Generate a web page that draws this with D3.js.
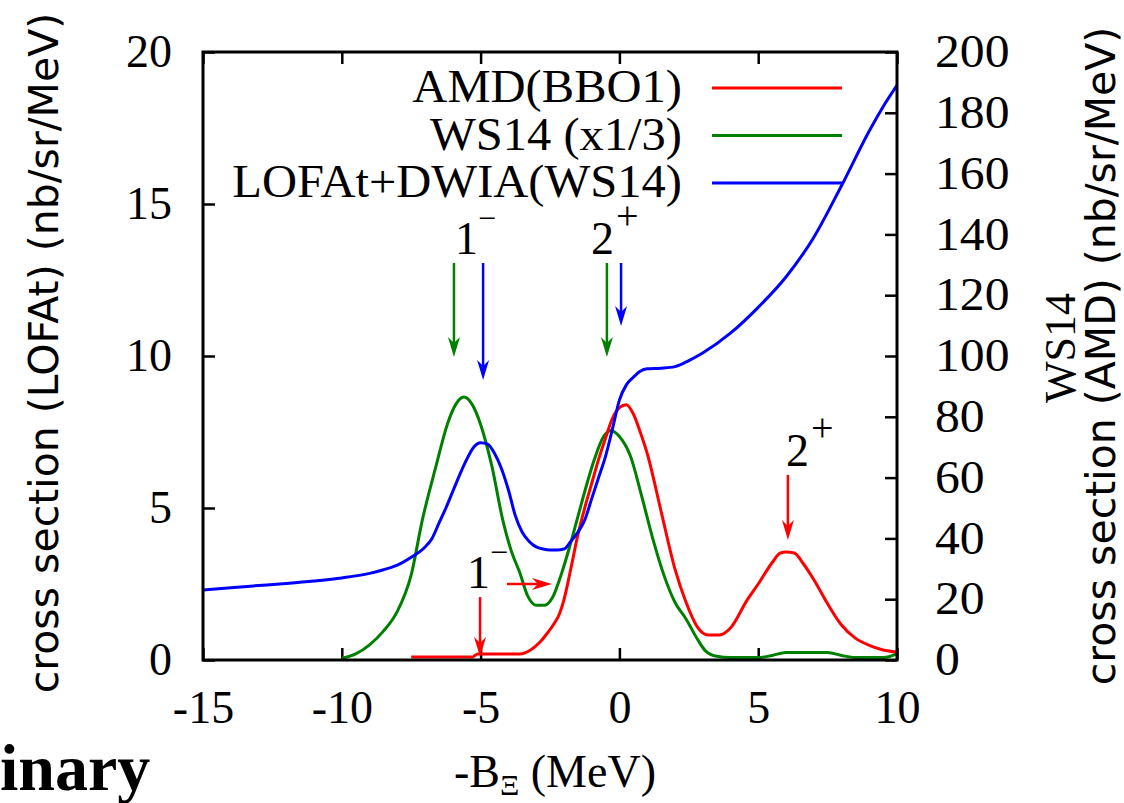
<!DOCTYPE html>
<html><head><meta charset="utf-8">
<script src="https://cdn.jsdelivr.net/npm/d3@7"></script>
<style>body{margin:0;background:#fff} svg{display:block}</style>
</head><body><svg id="c" width="1124" height="803"></svg>
<script>
// ---- data ----
const xTicks = [-15, -10, -5, 0, 5, 10];
const yLeftTicks = [0, 5, 10, 15, 20];
const yRightTicks = [0, 20, 40, 60, 80, 100, 120, 140, 160, 180, 200];

// AMD(BBO1) — right axis (nb/sr/MeV)
const amdX = [-7.5,-5.3,-5.1,-3.6,-3.2,-2.85,-2.6,-2.35,-2.15,-2.0,-1.75,-1.5,-1.25,-1.0,-0.75,-0.5,-0.25,0.0,0.25,0.5,0.75,1.0,1.5,2.0,2.4,2.8,3.2,3.6,4.0,4.6,5.0,5.5,5.8,6.0,6.3,6.6,7.0,7.5,8.0,8.5,9.0,9.5,10.0];
const amdY = [1,1,2,2,3.3,6,8.8,12,15.4,19.7,30,41,50,58,66,73,79.5,83,84,81,75,68,49,30,19,11,8.2,8.2,10.5,19.7,25,32,35.2,35.5,35.2,32,26.5,18.5,11.5,7.2,4.8,3.3,2.6];

// WS14 (x1/3) — right axis
const wsX = [-10,-9.5,-9,-8.5,-8,-7.5,-7.1,-6.6,-6.2,-5.9,-5.6,-5.3,-5.0,-4.6,-4.2,-3.9,-3.6,-3.3,-3.0,-2.7,-2.4,-2.1,-1.8,-1.5,-1.2,-0.9,-0.6,-0.3,0.0,0.4,0.8,1.2,1.6,2.0,2.4,2.8,3.1,3.5,4.0,5.0,5.5,6.0,7.5,8.0,8.5,9.5,10];
const wsY = [0.5,2,5,9.5,16,28,46,64,77.5,84,86.5,84,77.5,64,46,36,29,21,18,18,20.7,28,37,47,57,66,73,75.5,73.5,67,54,40,28,19,13.5,7,3,1.2,0.8,0.8,1.5,2.5,2.5,1.5,0.8,0.8,2];

// LOFAt+DWIA(WS14) — left axis
const lofX = [-15,-14,-13,-12,-11,-10,-9,-8.5,-8,-7.5,-7,-6.75,-6.5,-6.25,-6,-5.75,-5.5,-5.25,-5.0,-4.75,-4.5,-4.25,-4.0,-3.75,-3.5,-3.25,-3.0,-2.75,-2.5,-2.25,-2.0,-1.75,-1.5,-1.25,-1.0,-0.75,-0.5,-0.25,0.0,0.25,0.5,0.75,1.0,1.5,2.0,2.5,3.0,4.0,5.0,6.0,7.0,8.0,9.0,9.5,10.0];
const lofY = [2.3,2.38,2.45,2.52,2.6,2.7,2.85,2.97,3.12,3.38,3.72,4.0,4.5,5.0,5.55,6.1,6.6,7.0,7.15,7.1,6.8,6.3,5.6,4.75,4.2,3.9,3.72,3.65,3.62,3.62,3.65,3.9,4.2,4.6,5.3,6.0,6.7,7.6,8.55,9.05,9.3,9.5,9.58,9.6,9.65,9.85,10.1,10.75,11.6,12.6,13.9,15.6,17.4,18.2,18.9];

const legendLabels = ["AMD(BBO1)", "WS14 (x1/3)", "LOFAt+DWIA(WS14)"];
const colors = ["#ff0000", "#008000", "#0000ff"];

// arrows (x in MeV, y in left-axis units)
const arrowX1 = [-5.96, -4.91, -0.45, 0.06, 6.07, -5.02, -4.05];
const arrowY1 = [13.06, 13.06, 13.06, 13.06, 6.09, 2.07, 2.5];
const arrowX2 = [-5.96, -4.91, -0.45, 0.06, 6.07, -5.02, -2.43];
const arrowY2 = [9.97, 9.21, 9.97, 10.99, 3.95, 0.1, 2.5];
const arrowC  = [1, 2, 1, 2, 0, 0, 0];

// state labels (x in MeV, y in left-axis units)
const stateMain = ["1", "2", "2", "1"];
const stateSup  = ["\u2212", "+", "+", "\u2212"];
const stateX = [-5.92, -1.02, 6.0, -5.49];
const stateY = [13.36, 13.36, 6.38, 2.37];

// ---- drawing ----
const svg = d3.select("#c");
const L = 203, R = 897, T = 52, B = 660;
const x = d3.scaleLinear([-15, 10], [L, R]);
const yL = d3.scaleLinear([0, 20], [B, T]);
const yR = d3.scaleLinear([0, 200], [B, T]);
const serif = "'Liberation Serif','Times New Roman',serif";
const sans = "'DejaVu Sans',Verdana,sans-serif";

function stretch(sel, k){
  sel.each(function(){
    const n = this.getComputedTextLength();
    if (n > 0) d3.select(this).attr("textLength", n*k).attr("lengthAdjust","spacingAndGlyphs");
  });
}

svg.append("clipPath").attr("id","clip").append("rect")
  .attr("x", L).attr("y", T).attr("width", R-L).attr("height", B-T);

function styleAxis(g){
  g.select(".domain").remove();
  g.selectAll(".tick line").attr("stroke","#000").attr("stroke-width",2.5);
  g.selectAll(".tick text").attr("font-family", serif).attr("font-size", 46).attr("fill","#000");
}

svg.append("g").attr("transform",`translate(0,${B})`)
  .call(d3.axisBottom(x).tickValues(xTicks).tickSizeInner(-12).tickSizeOuter(0).tickPadding(30).tickFormat(d => String(d)))
  .call(styleAxis);
svg.append("g").attr("transform",`translate(0,${T})`)
  .call(d3.axisTop(x).tickValues(xTicks).tickSizeInner(-12).tickSizeOuter(0).tickFormat(""))
  .call(styleAxis);
const gl = svg.append("g").attr("transform",`translate(${L},0)`)
  .call(d3.axisLeft(yL).tickValues(yLeftTicks).tickSizeInner(-12).tickSizeOuter(0).tickPadding(31).tickFormat(d => String(d)))
  .call(styleAxis);
const gr = svg.append("g").attr("transform",`translate(${R},0)`)
  .call(d3.axisRight(yR).tickValues(yRightTicks).tickSizeInner(-12).tickSizeOuter(0).tickPadding(38).tickFormat(d => String(d)))
  .call(styleAxis);
stretch(gr.selectAll(".tick text"), 1.08);

// curves
const plot = svg.append("g").attr("clip-path","url(#clip)");
const lR = d3.line().x(d => x(d[0])).y(d => yR(d[1])).curve(d3.curveMonotoneX);
const lL = d3.line().x(d => x(d[0])).y(d => yL(d[1])).curve(d3.curveMonotoneX);
plot.append("path").datum(wsX.map((v,i)=>[v, wsY[i]])).attr("d", lR)
  .attr("fill","none").attr("stroke",colors[1]).attr("stroke-width",3);
plot.append("path").datum(amdX.map((v,i)=>[v, amdY[i]])).attr("d", lR)
  .attr("fill","none").attr("stroke",colors[0]).attr("stroke-width",3);
plot.append("path").datum(lofX.map((v,i)=>[v, lofY[i]])).attr("d", lL)
  .attr("fill","none").attr("stroke",colors[2]).attr("stroke-width",3);

// frame
svg.append("rect").attr("x",L).attr("y",T).attr("width",R-L).attr("height",B-T)
  .attr("fill","none").attr("stroke","#000").attr("stroke-width",3);

// legend
const leg = svg.append("g");
legendLabels.forEach((t,i) => {
  const yy = 88 + i*47.5;
  const tx = leg.append("text").attr("x",682).attr("y",yy+14).attr("text-anchor","end")
    .attr("font-family",serif).attr("font-size",46).text(t);
  stretch(tx, 1.055);
  leg.append("line").attr("x1",712).attr("x2",842).attr("y1",yy).attr("y2",yy)
    .attr("stroke",colors[i]).attr("stroke-width",3);
});

// arrows
const ag = svg.append("g");
arrowX1.forEach((v,i) => {
  const x1 = x(v), y1 = yL(arrowY1[i]), x2 = x(arrowX2[i]), y2 = yL(arrowY2[i]);
  const col = colors[arrowC[i]];
  const dx = x2-x1, dy = y2-y1, len = Math.hypot(dx,dy), ux = dx/len, uy = dy/len, px = -uy, py = ux;
  const hl = 20, hw = 6, notch = 14;
  ag.append("line").attr("x1",x1).attr("y1",y1).attr("x2",x2-ux*notch).attr("y2",y2-uy*notch)
    .attr("stroke",col).attr("stroke-width",2.5);
  const pts = [[x2,y2],[x2-ux*hl+px*hw, y2-uy*hl+py*hw],[x2-ux*notch, y2-uy*notch],[x2-ux*hl-px*hw, y2-uy*hl-py*hw]];
  ag.append("path").attr("d","M"+pts.map(p=>p.join(",")).join("L")+"Z").attr("fill",col);
});

// state labels
stateMain.forEach((t,i) => {
  const px0 = x(stateX[i]), py0 = yL(stateY[i]);
  svg.append("text").attr("x",px0).attr("y",py0).attr("font-family",serif).attr("font-size",46)
    .attr("fill","#000").text(t);
  svg.append("text").attr("x",px0 + (stateSup[i] === "+" ? 25 : 23)).attr("y",py0 - 25)
    .attr("font-family",serif).attr("font-size", stateSup[i] === "+" ? 40 : 32)
    .attr("fill","#000").text(stateSup[i]);
});

// x axis title
const xt = svg.append("text").attr("x",555).attr("y",787).attr("text-anchor","middle")
  .attr("font-family",serif).attr("font-size",46);
xt.append("tspan").text("-B");
xt.append("tspan").attr("font-size",30).attr("dy",8).text("\u039E");
xt.append("tspan").attr("dy",-8).text(" (MeV)");

// left y title
svg.append("text").attr("transform","translate(58,353) rotate(-90)").attr("text-anchor","middle")
  .attr("font-family",sans).attr("font-size",41).text("cross section (LOFAt) (nb/sr/MeV)");

// right y title (two lines)
svg.append("text").attr("transform","translate(1075,348) rotate(-90)").attr("text-anchor","middle")
  .attr("font-family",serif).attr("font-size",44).text("WS14");
svg.append("text").attr("transform","translate(1115,356) rotate(-90)").attr("text-anchor","middle")
  .attr("font-family",sans).attr("font-size",41).text("cross section (AMD) (nb/sr/MeV)");

// cropped watermark
svg.append("text").attr("x",0).attr("y",790).attr("font-family",serif).attr("font-weight","bold")
  .attr("font-size",66).text("inary");
</script></body></html>
